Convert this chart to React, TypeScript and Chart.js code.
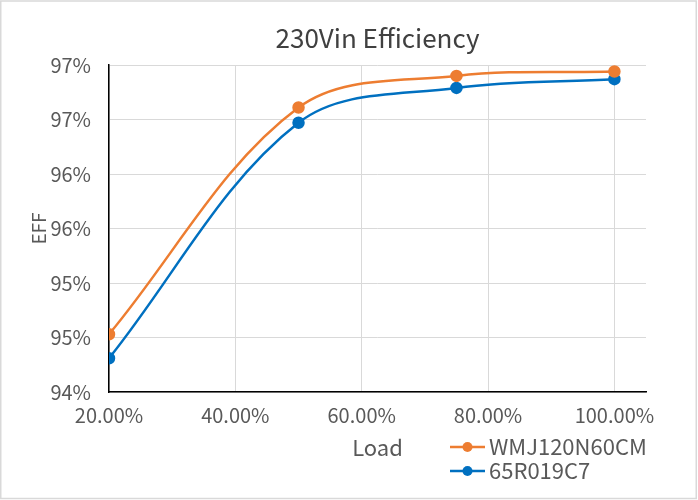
import { useEffect, useRef } from "react";
import { Chart, registerables } from "chart.js";
import type { Plugin } from "chart.js";

Chart.register(...registerables);

// load points (%) and measured efficiency (%)
const loads = [20, 50, 75, 100];
const wmjEff = [94.53, 96.61, 96.9, 96.94];
const r65Eff = [94.31, 96.47, 96.79, 96.87];

const seriesNames = ["WMJ120N60CM", "65R019C7"];
const seriesColors = ["#ED7D31", "#0070C0"];

// Excel rounds the 0.5 steps to whole percents
const yTickLabels = ["94%", "95%", "95%", "96%", "96%", "97%", "97%"];
const xTickLabels = ["20.00%", "40.00%", "60.00%", "80.00%", "100.00%"];

const chartTitle = "230Vin Efficiency";
const xTitle = "Load";
const yTitle = "EFF";

const FONT = '"Noto Sans CJK SC", "Noto Sans", sans-serif';
const TEXT = "#595959";
const GRID = "#d9d9d9";

const frame: Plugin<"line"> = {
  id: "frame",
  beforeDraw(chart) {
    const { ctx, width, height } = chart;
    ctx.save();
    ctx.fillStyle = "#fff";
    ctx.fillRect(0, 0, width, height);
    ctx.strokeStyle = GRID;
    ctx.lineWidth = 1.5;
    ctx.strokeRect(0.75, 1, width - 2.5, height - 2.5);
    ctx.restore();
  },
  afterDraw(chart) {
    const { ctx, chartArea } = chart;
    ctx.save();
    // title centred over the plot area, like Excel
    ctx.fillStyle = "#404040";
    ctx.font = `26px ${FONT}`;
    ctx.textAlign = "center";
    ctx.textBaseline = "middle";
    ctx.fillText(chartTitle, (chartArea.left + chartArea.right) / 2, 38);

    // legend beside the axis title
    ctx.font = `22px ${FONT}`;
    ctx.textAlign = "left";
    chart.data.datasets.forEach((ds, i) => {
      const y = 447 + i * 24;
      const color = ds.borderColor as string;
      ctx.strokeStyle = color;
      ctx.lineWidth = 2.5;
      ctx.beginPath();
      ctx.moveTo(450, y);
      ctx.lineTo(485, y);
      ctx.stroke();
      ctx.fillStyle = color;
      ctx.beginPath();
      ctx.arc(467.5, y, 5, 0, Math.PI * 2);
      ctx.fill();
      ctx.fillStyle = TEXT;
      ctx.fillText(ds.label ?? "", 489, y);
    });
    ctx.restore();
  },
};

export default function App() {
  const canvasRef = useRef<HTMLCanvasElement>(null);

  useEffect(() => {
    const canvas = canvasRef.current;
    if (!canvas) return;

    const makeSeries = (values: number[], i: number) => ({
      label: seriesNames[i],
      data: loads.map((x, k) => ({ x, y: values[k] })),
      borderColor: seriesColors[i],
      backgroundColor: seriesColors[i],
      borderWidth: 2.5,
      pointRadius: 5,
      pointHoverRadius: 5,
      tension: 0.35,
      fill: false,
    });

    const chart = new Chart(canvas, {
      type: "line",
      data: {
        datasets: [makeSeries(wmjEff, 0), makeSeries(r65Eff, 1)],
      },
      options: {
        responsive: false,
        animation: false,
        layout: { padding: { top: 65, right: 52, bottom: 0, left: 0 } },
        plugins: {
          legend: { display: false },
          title: { display: false },
          tooltip: { enabled: false },
        },
        scales: {
          x: {
            type: "linear",
            min: 20,
            max: 105,
            ticks: {
              stepSize: 20,
              includeBounds: false,
              padding: 11,
              color: TEXT,
              font: { family: FONT, size: 20 },
              callback: (_v, i) => xTickLabels[i],
            },
            grid: { color: GRID, lineWidth: 1, drawTicks: false },
            border: { color: "#000", width: 1.5 },
            title: {
              display: true,
              text: xTitle,
              color: TEXT,
              font: { family: FONT, size: 22 },
              padding: { top: 0, bottom: 39 },
            },
            afterFit: (s) => {
              s.height = 108;
            },
          },
          y: {
            min: 94,
            max: 97,
            ticks: {
              stepSize: 0.5,
              padding: 18,
              color: TEXT,
              font: { family: FONT, size: 20 },
              callback: (_v, i) => yTickLabels[i],
            },
            grid: { color: GRID, lineWidth: 1, drawTicks: false },
            border: { color: "#000", width: 1.5 },
            title: {
              display: true,
              text: yTitle,
              color: TEXT,
              font: { family: FONT, size: 19 },
              padding: { top: 27, bottom: 0 },
            },
            afterFit: (s) => {
              s.width = 109;
            },
          },
        },
      },
      plugins: [frame],
    });

    return () => chart.destroy();
  }, []);

  return (
    <div style={{ position: "absolute", left: 0, top: 0, width: 698, height: 500 }}>
      <canvas ref={canvasRef} width={698} height={500} />
    </div>
  );
}
